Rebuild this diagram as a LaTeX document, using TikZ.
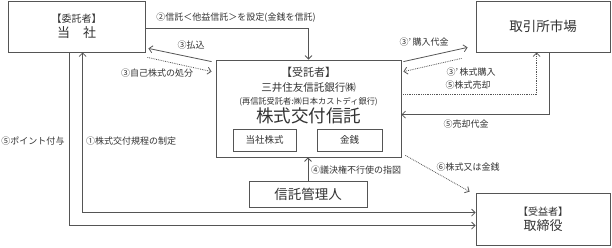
\documentclass[tikz,border=0pt]{standalone}
\usepackage{fontspec}
\setmainfont{Noto Sans CJK JP}
\usetikzlibrary{arrows.meta}
\definecolor{ln}{HTML}{555555}
\definecolor{tx}{HTML}{333333}
\newcommand{\fs}[1]{\fontsize{#1}{#1}\selectfont}
\begin{document}
\begin{tikzpicture}[x=1pt,y=-1pt,
  >={Straight Barb[length=3.5pt,width=7pt]},
  box/.style={draw=ln,line width=0.8pt,rectangle,inner sep=0pt,text=tx,align=center},
  conn/.style={draw=ln,line width=0.8pt},
  dot/.style={conn,densely dotted},
  lbl/.style={text=tx,inner sep=0pt,font=\fs{9}}]
\useasboundingbox (0,0) rectangle (612,247);
\fill[white] (0,0) rectangle (612,247);
% boxes
\node[box,minimum width=137pt,minimum height=51pt] (itaku) at (76.5,26.5)
  {{\fs{10}【委託者】}\\[3pt]{\fs{13}当　社}};
\node[box,minimum width=134pt,minimum height=51pt] (market) at (543,26.5)
  {\fs{13.5}取引所市場};
\node[box,minimum width=185pt,minimum height=97pt] (trust) at (308.5,108.5) {};
\node[text=tx,inner sep=0pt,font=\fs{11}] (t1) at (308.5,72) {【受託者】};
\node[text=tx,inner sep=0pt,font=\fs{10.5}] (t2) at (308.5,88) {三井住友信託銀行㈱};
\node[text=tx,inner sep=0pt,font=\fs{8.2}] (t3) at (308.5,102) {(再信託受託者:㈱日本カストディ銀行)};
\node[text=tx,inner sep=0pt,font=\fs{17.5}] (t4) at (308.5,116) {株式交付信託};
\node[box,minimum width=63pt,minimum height=22pt,font=\fs{9.5}] (jisha) at (264.5,140) {当社株式};
\node[box,minimum width=65pt,minimum height=22pt,font=\fs{9.5}] (kinsen) at (349.5,140) {金銭};
\node[box,minimum width=118pt,minimum height=26pt,font=\fs{13.5}] (kanri) at (308,194) {信託管理人};
\node[box,minimum width=134pt,minimum height=52pt] (tori) at (543,219)
  {{\fs{10}【受益者】}\\[3pt]{\fs{13}取締役}};
% connectors
\coordinate (y28) at (0,28);
\draw[conn,->] (itaku.east |- y28) -| (trust.north);
\node[lbl] (l2) at (236,18) {②信託＜他益信託＞を設定(金銭を信託)};
\draw[conn,->] ([xshift=-4pt,yshift=-2pt]trust.north west) -- ([xshift=3pt,yshift=4pt]itaku.south east);
\node[lbl] (l3a) at (191,45) {③払込};
\draw[dot,->] ([xshift=2pt,yshift=-5pt]itaku.south east) -- ([xshift=-4pt,yshift=-12pt]trust.north west);
\node[lbl] (l3b) at (157,73) {③自己株式の処分};
\draw[conn,->] ([xshift=2pt,yshift=-2pt]trust.north east) -- ([xshift=-8pt,yshift=5pt]market.south west);
\node[lbl] (l3c) at (424,42) {③’\,購入代金};
\draw[dot,->] ([xshift=-14pt,yshift=-6pt]market.south west) -- ([xshift=2pt,yshift=-12pt]trust.north east);
\node[lbl] (l3d) at (471,72) {③’\,株式購入};
\draw[dot,->] ([yshift=-35pt]trust.north east) -| ([xshift=61pt]market.south west);
\node[lbl] (l5a) at (468,85) {⑤株式売却};
\draw[conn,->] ([xshift=74pt]market.south west) |- ([yshift=-55pt]trust.north east);
\node[lbl] (l5b) at (466,124) {⑤売却代金};
\draw[dot,->] ([xshift=4pt,yshift=2pt]trust.south east) -- ([xshift=-6pt,yshift=1pt]tori.north west);
\node[lbl] (l6) at (468,167) {⑥株式又は金銭};
\draw[conn,->] (kanri.north) -- (kanri.north |- trust.south);
\node[lbl,anchor=west] (l4) at (311,170) {④議決権不行使の指図};
\draw[conn,->] ([xshift=62pt]itaku.south west) |- ([yshift=-33pt]tori.north west);
\node[lbl] (l5c) at (33,141) {⑤ポイント付与};
\draw[conn,<->] ([xshift=75pt]itaku.south west) |- ([yshift=-20pt]tori.north west);
\node[lbl,anchor=west] (l1) at (86,141) {①株式交付規程の制定};
\end{tikzpicture}
\end{document}
